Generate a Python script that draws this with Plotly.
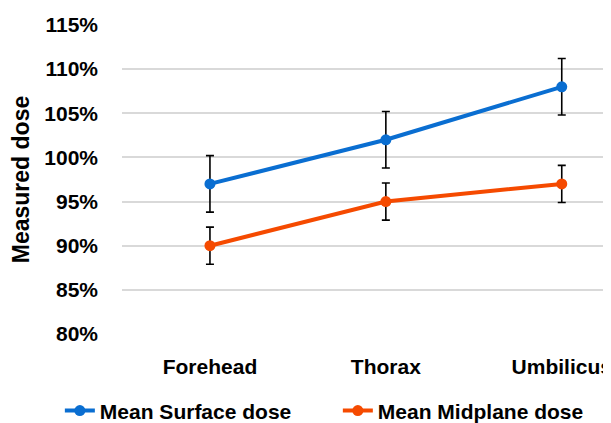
import plotly.graph_objects as go

categories = ["Forehead", "Thorax", "Umbilicus"]
surface_mean = [97, 102, 108]
surface_err = [3.2, 3.2, 3.2]
midplane_mean = [90, 95, 97]
midplane_err = [2.1, 2.1, 2.1]
y_ticks = [80, 85, 90, 95, 100, 105, 110, 115]
y_tick_labels = [f"{v}%" for v in y_ticks]

FONT = "Liberation Sans"
W, H = 603, 415  # page body has an 8px margin in the 611x423 window

fig = go.Figure()
fig.add_trace(go.Scatter(
    x=categories, y=surface_mean, name="Mean Surface dose",
    mode="lines+markers", legend="legend",
    line=dict(color="#0A6ED1", width=4),
    marker=dict(color="#0A6ED1", size=11),
    error_y=dict(type="data", array=surface_err, visible=True,
                 color="black", thickness=1.6, width=4),
    cliponaxis=False,
))
fig.add_trace(go.Scatter(
    x=categories, y=midplane_mean, name="Mean Midplane dose",
    mode="lines+markers", legend="legend2",
    line=dict(color="#F54A00", width=4),
    marker=dict(color="#F54A00", size=11),
    error_y=dict(type="data", array=midplane_err, visible=True,
                 color="black", thickness=1.6, width=4),
    cliponaxis=False,
))

legend_common = dict(
    orientation="h", xref="container", yref="container",
    xanchor="left", yanchor="middle", y=0.029,
    font=dict(family=FONT, size=21, color="black", weight="bold"),
    bgcolor="rgba(0,0,0,0)",
)

fig.update_layout(
    width=W, height=H,
    margin=dict(l=114, r=0, t=17, b=89, autoexpand=False),
    paper_bgcolor="white", plot_bgcolor="white",
    font=dict(family=FONT, color="black", size=20, weight="bold"),
    showlegend=True,
    legend=dict(x=0.086, **legend_common),
    legend2=dict(x=0.547, **legend_common),
    xaxis=dict(
        type="category", range=[-0.5, 2.28],
        showgrid=False, showline=False, zeroline=False,
        ticks="", ticklabelstandoff=18, automargin=False,
        tickfont=dict(family=FONT, size=21, color="black", weight="bold"),
    ),
    yaxis=dict(
        range=[80, 115], tickvals=y_ticks, ticktext=y_tick_labels,
        showgrid=True, gridcolor="#d9d9d9", gridwidth=1.5,
        showline=False, zeroline=False, ticks="", ticklabelstandoff=23,
        automargin=False,
        tickfont=dict(family=FONT, size=21, color="black", weight="bold"),
        title=dict(text="Measured dose", standoff=18,
                   font=dict(family=FONT, size=23, color="black", weight="bold")),
    ),
)

fig.write_html("out.html")
